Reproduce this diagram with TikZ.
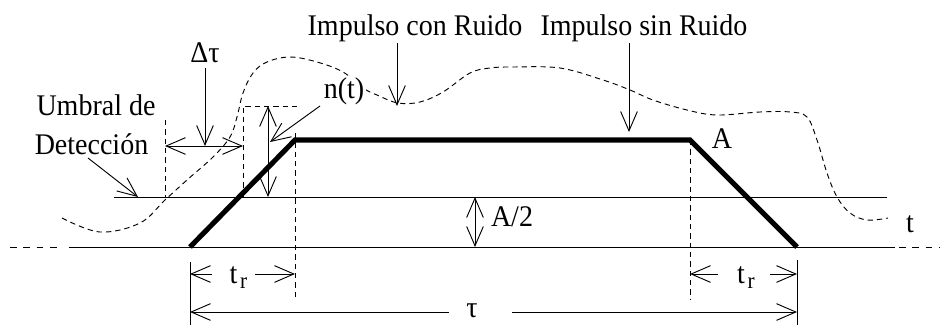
\documentclass[tikz,border=0pt]{standalone}
\usepackage{fontspec}
\setmainfont{Liberation Serif}
\usetikzlibrary{arrows.meta}
\newcommand\vstretch[1]{\scalebox{1}[1.07]{#1}}
\newcommand\trlabel{t\kern2pt\raisebox{-4pt}{\fontsize{16pt}{16pt}\selectfont r}}
\begin{document}
\begin{tikzpicture}[x=0.75pt,y=-0.75pt,
  thinl/.style={line width=0.7pt},
  tipa/.tip={Straight Barb[length=14.5pt,width=12.5pt]},
  ar/.style={line width=0.7pt,-tipa},
  dar/.style={line width=0.7pt,tipa-tipa},
  dsh/.style={line width=0.7pt,dash pattern=on 4pt off 3pt},
  bdsh/.style={line width=0.7pt,dash pattern=on 5pt off 5pt},
  lbl/.style={font=\fontsize{21pt}{24pt}\selectfont, inner sep=0pt, anchor=base},
  pulse/.style={line width=3.8pt}]
\useasboundingbox (0,0) rectangle (940,325);
% key points
\coordinate (p0) at (190,247);
\coordinate (p1) at (295,140);
\coordinate (p2) at (690,140);
\coordinate (p3) at (797,247);
% axis and threshold
\coordinate (axL0) at (10,247); \coordinate (axL1) at (62,247);
\coordinate (axS0) at (69,247); \coordinate (axS1) at (895,247);
\coordinate (axR0) at (899,247); \coordinate (axR1) at (940,247);
\draw[bdsh] (axL0) -- (axL1);
\draw[thinl] (axS0) -- (axS1);
\draw[bdsh] (axR0) -- (axR1);
\coordinate (th0) at (114,197); \coordinate (th1) at (887,197);
\draw[thinl] (th0) -- (th1);
% noise curve
\draw[dsh] plot[smooth, tension=0.6] coordinates {(62,218) (100,232) (140,223) (165,200) (187,180) (213,157) (230,137) (237,117) (243,93) (253,73) (267,62) (290,57) (317,62) (343,72) (363,88) (377,95) (398,103) (420,102) (443,92) (470,73) (490,68) (513,67) (560,68) (603,80) (630,90) (653,100) (687,110) (717,115) (760,112) (790,112) (807,117) (817,140) (827,173) (837,197) (850,213) (867,220) (888,218)};
% dashed guides
\coordinate (g1a) at (295,133); \coordinate (g1b) at (295,300);
\coordinate (g2a) at (690,140); \coordinate (g2b) at (690,300);
\coordinate (g3a) at (165,120); \coordinate (g3b) at (165,197);
\coordinate (g4a) at (243,106); \coordinate (g4b) at (243,197);
\coordinate (g5b) at (297,106);
\draw[dsh] (g1a) -- (g1b);
\draw[dsh] (g2a) -- (g2b);
\draw[dsh] (g3a) -- (g3b);
\draw[dsh] (g4b) -- (g4a) -- (g5b);
% solid extension lines
\coordinate (e1a) at (190,262); \coordinate (e1b) at (190,325);
\coordinate (e2a) at (797,260); \coordinate (e2b) at (797,325);
\draw[thinl] (e1a) -- (e1b);
\draw[thinl] (e2a) -- (e2b);
% pulse
\draw[pulse] (p0) -- (p1) -- (p2) -- (p3);
% t_r left
\node[lbl] (trL) at (238.5,283) {\vstretch{\trlabel}};
\coordinate (trLa) at (212,274); \coordinate (trLb) at (190,274);
\coordinate (trLc) at (255,274); \coordinate (trLd) at (295,274);
\draw[ar] (trLa) -- (trLb);
\draw[ar] (trLc) -- (trLd);
% t_r right
\node[lbl] (trR) at (746,283) {\vstretch{\trlabel}};
\coordinate (trRa) at (718,274); \coordinate (trRb) at (690,274);
\coordinate (trRc) at (770,274); \coordinate (trRd) at (797,274);
\draw[ar] (trRa) -- (trRb);
\draw[ar] (trRc) -- (trRd);
% tau
\node[lbl] (tau) at (472,317) {\vstretch{τ}};
\coordinate (taua) at (449,312); \coordinate (taub) at (190,312);
\coordinate (tauc) at (512,312); \coordinate (taud) at (797,312);
\draw[ar] (taua) -- (taub);
\draw[ar] (tauc) -- (taud);
% delta tau
\node[lbl] (dtau) at (205,62) {\vstretch{Δτ}};
\coordinate (dta) at (205,68); \coordinate (dtb) at (205,146);
\draw[ar] (dta) -- (dtb);
\coordinate (dtl) at (165,146); \coordinate (dtr) at (243,146);
\draw[dar] (dtl) -- (dtr);
% n(t)
\node[lbl, fill=white, inner sep=1pt] (nt) at (344,98) {\vstretch{n(t)}};
\coordinate (nta) at (320,106); \coordinate (ntb) at (270,142);
\draw[ar] (nta) -- (ntb);
\coordinate (ntu) at (268,106); \coordinate (ntd) at (268,197);
\draw[dar] (ntu) -- (ntd);
% umbral
\node[lbl] (umb1) at (96,115) {\vstretch{Umbral de}};
\node[lbl] (umb2) at (91.5,154) {\vstretch{Detección}};
\coordinate (uma) at (88,158); \coordinate (umb) at (138,197);
\draw[ar] (uma) -- (umb);
% impulse labels
\node[lbl] (icr) at (415,35) {\vstretch{Impulso con Ruido}};
\coordinate (icra) at (397,43); \coordinate (icrb) at (397,106);
\draw[ar] (icra) -- (icrb);
\node[lbl] (isr) at (644,35) {\vstretch{Impulso sin Ruido}};
\coordinate (isra) at (629,43); \coordinate (isrb) at (629,132);
\draw[ar] (isra) -- (isrb);
% A, A/2, t
\node[lbl] (lA) at (722,148) {\vstretch{A}};
\node[lbl] (lA2) at (512,226) {\vstretch{A/2}};
\coordinate (a2u) at (475,197); \coordinate (a2d) at (475,247);
\draw[dar] (a2u) -- (a2d);
\node[lbl] (lt) at (910,232) {\vstretch{t}};
\end{tikzpicture}
\end{document}
